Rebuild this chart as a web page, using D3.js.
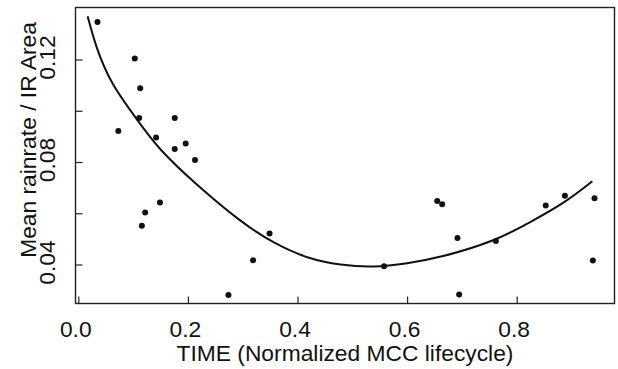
<!DOCTYPE html>
<html>
<head>
<meta charset="utf-8">
<script src="https://cdn.jsdelivr.net/npm/d3@7"></script>
<style>
  html, body { margin: 0; padding: 0; background: #fff; }
  svg { display: block; }
  text { font-family: "Liberation Sans", Arial, sans-serif; fill: #111; }
</style>
</head>
<body>
<svg id="chart" width="618" height="369"></svg>
<script>
// Observed points: TIME (normalized) and mean rainrate / IR area
const timeValues = [0.035, 0.103, 0.113, 0.111, 0.176, 0.073, 0.142, 0.196, 0.176, 0.213,
                    0.149, 0.122, 0.116, 0.274, 0.349, 0.319, 0.558, 0.655, 0.664, 0.692,
                    0.695, 0.762, 0.853, 0.888, 0.942, 0.939];
const rateValues = [0.1346, 0.1204, 0.1088, 0.0972, 0.0972, 0.0921, 0.0896, 0.0872, 0.0851, 0.0808,
                    0.0642, 0.0603, 0.0551, 0.0281, 0.0521, 0.0417, 0.0393, 0.0648, 0.0635, 0.0503,
                    0.0283, 0.0492, 0.0630, 0.0668, 0.0659, 0.0416];
// Fitted curve
const curveX = [0.017, 0.032, 0.059, 0.108, 0.147, 0.213, 0.296, 0.357, 0.418, 0.479, 0.539, 0.600, 0.661, 0.762, 0.825, 0.886, 0.938];
const curveY = [0.1369, 0.1249, 0.1106, 0.0963, 0.0849, 0.0716, 0.0566, 0.0482, 0.0423, 0.0397, 0.0388, 0.0404, 0.0427, 0.0492, 0.0566, 0.0638, 0.0725];
// Axis ticks
const xTicks = [0.0, 0.2, 0.4, 0.6, 0.8];
const xTickLabels = ["0.0", "0.2", "0.4", "0.6", "0.8"];
const yTicks = [0.04, 0.06, 0.08, 0.10, 0.12];
const yTickLabels = ["0.04", "", "0.08", "", "0.12"];
const xTitle = "TIME (Normalized MCC lifecycle)";
const yTitle = "Mean rainrate / IR Area";

const svg = d3.select("#chart");
const L = 75.5, R = 614.5, T = 7.5, B = 303.5;

const x = d3.scaleLinear().domain([-0.0051, 0.9785]).range([L, R]);
const y = d3.scaleLinear().domain([0.02478, 0.14030]).range([B, T]);

const fontSize = 22.8;

// frame
svg.append("rect")
  .attr("x", L).attr("y", T).attr("width", R - L).attr("height", B - T)
  .attr("fill", "none").attr("stroke", "#222").attr("stroke-width", 1.4);

// x axis ticks (inside)
const xAxis = d3.axisBottom(x).tickValues(xTicks).tickSize(-7).tickFormat("");
const gx = svg.append("g").attr("transform", `translate(0,${B})`).call(xAxis);
gx.select(".domain").remove();
gx.selectAll(".tick line").attr("stroke", "#222").attr("stroke-width", 1.2);

svg.append("g").selectAll("text").data(xTicks).join("text")
  .attr("x", d => x(d) - 2.5)
  .attr("y", 336.5)
  .attr("text-anchor", "middle")
  .attr("font-size", fontSize)
  .text((d, i) => xTickLabels[i]);

// y axis ticks (inside)
const yAxis = d3.axisLeft(y).tickValues(yTicks).tickSize(-7).tickFormat("");
const gy = svg.append("g").attr("transform", `translate(${L},0)`).call(yAxis);
gy.select(".domain").remove();
gy.selectAll(".tick line").attr("stroke", "#222").attr("stroke-width", 1.2);

svg.append("g").selectAll("text").data(yTicks.filter((d, i) => yTickLabels[i] !== "")).join("text")
  .attr("transform", d => `translate(54.5,${y(d) - 2}) rotate(-90)`)
  .attr("text-anchor", "middle")
  .attr("font-size", fontSize)
  .text(d => yTickLabels[yTicks.indexOf(d)]);

// titles
svg.append("text")
  .attr("x", (L + R) / 2)
  .attr("y", 361)
  .attr("text-anchor", "middle")
  .attr("font-size", fontSize)
  .text(xTitle);

svg.append("text")
  .attr("transform", `translate(36,140) rotate(-90)`)
  .attr("text-anchor", "middle")
  .attr("font-size", fontSize)
  .text(yTitle);

// fitted curve
const curveData = curveX.map((d, i) => [d, curveY[i]]);
svg.append("path")
  .datum(curveData)
  .attr("fill", "none")
  .attr("stroke", "#111")
  .attr("stroke-width", 2)
  .attr("d", d3.line().x(d => x(d[0])).y(d => y(d[1])).curve(d3.curveBasis));

// points
const pts = timeValues.map((d, i) => [d, rateValues[i]]);
svg.append("g").selectAll("circle").data(pts).join("circle")
  .attr("cx", d => x(d[0]))
  .attr("cy", d => y(d[1]))
  .attr("r", 3)
  .attr("fill", "#111");
</script>
</body>
</html>
